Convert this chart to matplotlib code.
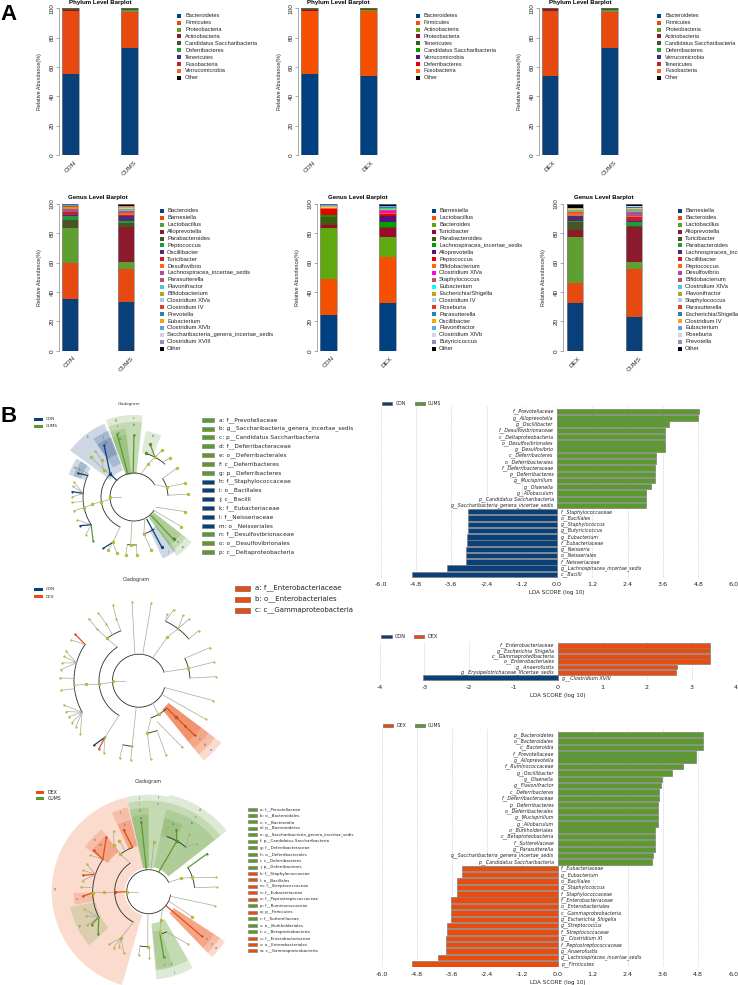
import numpy as np
import matplotlib
matplotlib.use("Agg")
import matplotlib.pyplot as plt
from matplotlib.patches import Rectangle

W, H = 738, 985
BLUE = "#0A4079"
ORANGE = "#E84C0E"
GREEN = "#5C9A2F"
group_colors = {"c": BLUE, "o": ORANGE, "g": GREEN, "n": "#C4C41C"}

# ---- panel A data ----
phylum_cols_soft = ["#0A4079", "#E64A10", "#5F9E30", "#8A1A2C", "#4A5322", "#1F9A3C", "#4C2C74", "#C51F2E", "#F26B1D", "#000000"]
phylum_cols_bright = ["#004080", "#F55000", "#5FA80E", "#9A0A2D", "#3F5B0F", "#00A000", "#5A0F80", "#E60000", "#FF6A00", "#000000"]

phylum1_names = ["Bacteroidetes", "Firmicutes", "Proteobacteria", "Actinobacteria", "Candidatus Saccharibacteria",
                 "Deferribacteres", "Tenericutes", "Fusobacteria", "Verrucomicrobia", "Other"]
phylum1_groups = ["CON", "CUMS"]
phylum1_con = [55.5, 42.5, 0.2, 0.8, 0.4, 0.05, 0.1, 0.05, 0.05, 0.35]
phylum1_cums = [73.0, 24.5, 1.5, 0.1, 0.3, 0.1, 0.1, 0.05, 0.05, 0.4]

phylum2_names = ["Bacteroidetes", "Firmicutes", "Actinobacteria", "Proteobacteria", "Tenericutes",
                 "Candidatus Saccharibacteria", "Verrucomicrobia", "Deferribacteres", "Fusobacteria", "Other"]
phylum2_groups = ["CON", "DEX"]
phylum2_con = [55.5, 42.8, 0.1, 0.2, 0.9, 0.05, 0.05, 0.05, 0.05, 0.3]
phylum2_dex = [54.0, 44.0, 0.8, 0.3, 0.4, 0.05, 0.05, 0.05, 0.05, 0.3]

phylum3_names = ["Bacteroidetes", "Firmicutes", "Proteobacteria", "Actinobacteria", "Candidatus Saccharibacteria",
                 "Deferribacteres", "Verrucomicrobia", "Tenericutes", "Fusobacteria", "Other"]
phylum3_groups = ["DEX", "CUMS"]
phylum3_dex = [54.0, 44.2, 0.3, 1.0, 0.1, 0.05, 0.05, 0.05, 0.05, 0.2]
phylum3_cums = [73.0, 24.5, 1.5, 0.1, 0.3, 0.1, 0.05, 0.05, 0.05, 0.35]

genus_cols_soft = ["#0A4079", "#E64A10", "#5F9E30", "#8A1A2C", "#4A5322", "#1F9A3C", "#4C2C74", "#C51F2E", "#F26B1D",
                   "#A84FA0", "#C34B6E", "#55C2D6", "#B8A51E", "#A8CDE8", "#E83A25", "#2A7FB8", "#F5A01E", "#57A5DB",
                   "#CBD5E3", "#8E92BE", "#000000"]
genus_cols_bright = ["#004080", "#F55000", "#5FA80E", "#9A0A2D", "#3F5B0F", "#00A000", "#5A0F80", "#E60000", "#FF6A00",
                     "#FF00E0", "#C94E6E", "#00FFFF", "#BFA60F", "#AAD4F0", "#F53020", "#1F85C0", "#FFA500", "#55AEEE",
                     "#CCD9E6", "#8C90C0", "#000000"]

genus1_names = ["Bacteroides", "Barnesiella", "Lactobacillus", "Alloprevotella", "Parabacteroides", "Peptococcus",
                "Oscillibacter", "Turicibacter", "Desulfovibrio", "Lachnospiracea_incertae_sedis", "Parasutterella",
                "Flavonifractor", "Bifidobacterium", "Clostridium XlVa", "Clostridium IV", "Prevotella", "Eubacterium",
                "Clostridium XlVb", "Saccharibacteria_genera_incertae_sedis", "Clostridium XVIII", "Other"]
genus1_groups = ["CON", "CUMS"]
genus1_con = [35, 24.5, 24, 0.1, 5.3, 3, 0.4, 2, 0.5, 1.2, 0.7, 0.2, 1, 0.3, 0.2, 0.3, 0.2, 0.3, 0.2, 0.2, 0.4]
genus1_cums = [33.3, 22.7, 4.5, 23.5, 3, 1.2, 3.3, 0.7, 2, 0.6, 0.6, 0.7, 0.3, 0.6, 0.1, 0.3, 0.3, 0.2, 0.3, 0.3, 1.5]

genus2_names = ["Barnesiella", "Lactobacillus", "Bacteroides", "Turicibacter", "Parabacteroides",
                "Lachnospiracea_incertae_sedis", "Alloprevotella", "Peptococcus", "Bifidobacterium", "Clostridium XlVa",
                "Staphylococcus", "Eubacterium", "Escherichia/Shigella", "Clostridium IV", "Roseburia", "Parasutterella",
                "Oscillibacter", "Flavonifractor", "Clostridium XlVb", "Butyricicoccus", "Other"]
genus2_groups = ["CON", "DEX"]
genus2_con = [24.3, 24.7, 34.7, 2.3, 5, 1.5, 0.1, 4, 0.5, 0.1, 0.1, 0.1, 0.1, 0.3, 0.1, 0.3, 0.5, 0.3, 0.2, 0.2, 0.6]
genus2_dex = [32.3, 31.5, 13.7, 6.1, 0.7, 3.2, 4.5, 1.4, 0.6, 1.4, 0.7, 0.7, 0.3, 0.3, 0.1, 0.2, 0.5, 0.2, 0.1, 0.2, 1.2]

genus3_names = ["Barnesiella", "Bacteroides", "Lactobacillus", "Alloprevotella", "Turicibacter", "Parabacteroides",
                "Lachnospiracea_incertae_sedis", "Oscillibacter", "Peptococcus", "Desulfovibrio", "Bifidobacterium",
                "Clostridium XlVa", "Flavonifractor", "Staphylococcus", "Parasutterella", "Escherichia/Shigella",
                "Clostridium IV", "Eubacterium", "Roseburia", "Prevotella", "Other"]
genus3_groups = ["DEX", "CUMS"]
genus3_dex = [32.5, 13.5, 31.5, 4.5, 6, 0.3, 3.3, 0.4, 2.1, 0.1, 0.3, 0.8, 0.3, 0.8, 0.1, 0.3, 0.3, 0.2, 0.1, 0.1, 2.3]
genus3_cums = [23, 33, 4.5, 23.5, 0.8, 2.7, 0.6, 3.2, 0.8, 2.2, 0.4, 0.7, 1.4, 0.4, 0.1, 0.4, 0.2, 0.3, 0.2, 0.2, 1.5]

# ---- LDA data ----
lda1_names = ["f__Prevotellaceae", "g__Alloprevotella", "g__Oscillibacter", "f__Desulfovibrionaceae",
              "c__Deltaproteobacteria", "o__Desulfovibrionales", "g__Desulfovibrio", "c__Deferribacteres",
              "o__Deferribacterales", "f__Deferribacteraceae", "p__Deferribacteres", "g__Mucispirillum", "g__Olsenella",
              "g__Allobaculum", "p__Candidatus Saccharibacteria", "g__Saccharibacteria_genera_incertae_sedis",
              "f__Staphylococcaceae", "o__Bacillales", "g__Staphylococcus", "g__Butyricicoccus", "g__Eubacterium",
              "f__Eubacteriaceae", "g__Neisseria", "o__Neisseriales", "f__Neisseriaceae",
              "g__Lachnospiracea_incertae_sedis", "c__Bacilli"]
lda1_vals = [4.84, 4.80, 3.80, 3.68, 3.68, 3.68, 3.68, 3.37, 3.37, 3.34, 3.33, 3.32, 3.20, 3.02, 3.01, 3.01,
             -3.03, -3.03, -3.03, -3.04, -3.07, -3.07, -3.10, -3.11, -3.11, -3.75, -4.95]

lda2_names = ["f__Enterobacteriaceae", "g__Escherichia_Shigella", "c__Gammaproteobacteria", "o__Enterobacteriales",
              "g__Anaerofustis", "g__Erysipelotrichaceae_incertae_sedis", "g__Clostridium XVIII"]
lda2_vals = [3.42, 3.42, 3.42, 3.42, 2.67, 2.65, -3.03]

lda3_names = ["p__Bacteroidetes", "o__Bacteroidales", "c__Bacteroidia", "f__Prevotellaceae", "g__Alloprevotella",
              "f__Ruminococcaceae", "g__Oscillibacter", "g__Olsenella", "g__Flavonifractor", "c__Deferribacteres",
              "f__Deferribacteraceae", "p__Deferribacteres", "o__Deferribacterales", "g__Mucispirillum", "g__Allobaculum",
              "o__Burkholderiales", "c__Betaproteobacteria", "f__Sutterellaceae", "g__Parasutterella",
              "g__Saccharibacteria_genera_incertae_sedis", "p__Candidatus Saccharibacteria", "f__Eubacteriaceae",
              "g__Eubacterium", "o__Bacillales", "g__Staphylococcus", "f__Staphylococcaceae", "f__Enterobacteriaceae",
              "o__Enterobacteriales", "c__Gammaproteobacteria", "g__Escherichia_Shigella", "g__Streptococcus",
              "f__Streptococcaceae", "g__Clostridium XI", "f__Peptostreptococcaceae", "g__Anaerofustis",
              "g__Lachnospiracea_incertae_sedis", "p__Firmicutes"]
lda3_vals = [4.98, 4.98, 4.98, 4.72, 4.72, 4.30, 3.90, 3.58, 3.52, 3.46, 3.45, 3.44, 3.44, 3.44, 3.42, 3.34, 3.34,
             3.32, 3.32, 3.25, 3.24, -3.26, -3.26, -3.42, -3.42, -3.42, -3.65, -3.65, -3.65, -3.65, -3.76, -3.76,
             -3.79, -3.79, -3.80, -4.07, -4.98]

# ---- cladogram data: angles in degrees, radii in picture units ----
clade1_labels = ["a: f__Prevotellaceae", "b: g__Saccharibacteria_genera_incertae_sedis", "c: p__Candidatus Saccharibacteria",
                 "d: f__Deferribacteraceae", "e: o__Deferribacterales", "f: c__Deferribacteres", "g: p__Deferribacteres",
                 "h: f__Staphylococcaceae", "i: o__Bacillales", "j: c__Bacilli", "k: f__Eubacteriaceae",
                 "l: f__Neisseriaceae", "m: o__Neisseriales", "n: f__Desulfovibrionaceae", "o: o__Desulfovibrionales",
                 "p: c__Deltaproteobacteria"]
clade1_groups = "gggggggcccccc" + "ggg"
# sector: start, end, inner, outer, group, letter
clade1_sectors = [(112, 144, 29, 79, "c", "k"), (111, 125, 36, 71, "c", "j"), (111, 125, 46, 64, "c", "h"),
                  (97, 110, 23, 82, "g", "g"), (97, 110, 23, 75, "g", "f"), (97, 110, 23, 69, "g", "e"),
                  (97, 110, 23, 63, "g", "a"), (84, 97, 23, 82, "g", "c"), (84, 97, 23, 75, "g", "b"),
                  (66, 80, 45, 67, "g", "d"), (146, 161, 52, 69, "c", "m"), (146, 161, 56, 64, "c", "l"),
                  (-65, -52, 36, 68, "c", "i"), (-54, -38, 25, 73, "g", "p"), (-54, -38, 25, 66, "g", "o"),
                  (-54, -38, 25, 60, "g", "n")]
clade1_arcs = [(31, 326, 24), (133, 245, 33), (155, 213, 51), (3, 33, 34), (47, 75, 45), (-75, -58, 38), (262, 273, 48)]
# spoke: angle0, radius0, angle1, radius1, group of the end node
clade1_spokes = [(180, 13, 180, 24, "n"), (186, 24, 188, 33, "n"), (188, 33, 190, 43, "n"), (190, 43, 192, 51, "n"),
                 (155, 51, 157, 61, "c"), (153, 51, 153, 62, "n"), (176, 51, 166, 62, "n"), (176, 51, 170, 62, "n"),
                 (176, 51, 175, 62, "c"), (176, 51, 180, 62, "n"), (185, 51, 185, 62, "n"), (192, 51, 193, 62, "n"),
                 (213, 51, 202, 61, "n"), (213, 51, 208, 61, "c"), (213, 51, 218, 61, "n"), (213, 51, 227, 60, "g"),
                 (245, 33, 245, 50, "n"), (245, 50, 239, 60, "c"), (245, 50, 244, 59, "n"), (245, 50, 253, 59, "n"),
                 (265, 24, 266, 48, "n"), (262, 48, 262, 59, "n"), (273, 48, 273, 58, "n"), (-63, 24, -75, 38, "n"),
                 (-75, 38, -72, 56, "n"), (-60, 26, -61, 57, "c"), (-47, 24, -47, 58, "g"), (-34, 24, -32, 56, "n"),
                 (-25, 24, -16, 53, "n"), (31, 24, 17, 34, "n"), (33, 34, 34, 52, "n"), (17, 34, 15, 53, "n"),
                 (3, 34, 3, 54, "n"), (73, 24, 67, 36, "n"), (67, 36, 62, 45, "n"), (62, 45, 73, 55, "g"),
                 (75, 45, 75, 46, "g"), (62, 45, 59, 55, "n"), (51, 45, 47, 53, "n"), (105, 24, 105, 65, "g"),
                 (92, 24, 90, 62, "g"), (136, 24, 136, 33, "c"), (136, 33, 138, 41, "n"), (138, 41, 137, 59, "n"),
                 (138, 41, 131, 49, "n"), (131, 49, 130, 60, "n"), (136, 33, 120, 60, "c")]

clade2_labels = ["a: f__Enterobacteriaceae", "b: o__Enterobacteriales", "c: c__Gammaproteobacteria"]
clade2_groups = "ooo"
clade2_sectors = [(-51, -37, 37, 103, "o", "a"), (-51, -37, 37, 95, "o", "b"), (-51, -37, 37, 87, "o", "c"),
                  (-51, -37, 37, 78, "o", "")]
clade2_arcs = [(19, 345, 26.5), (123, 240, 40), (146, 209, 65), (110, 127, 53), (40, 66, 65), (3, 26, 51),
               (-72, -46, 39), (-81, -70, 53), (256, 264, 66)]
clade2_spokes = [(180, 14, 180, 26.5, "n"), (183, 26.5, 185, 40, "n"), (185, 40, 184, 53, "n"), (184, 53, 184, 65, "n"),
                 (146, 65, 144, 79, "o"), (146, 65, 149, 79, "n"), (164, 65, 158, 79, "n"), (164, 65, 162, 79, "n"),
                 (164, 65, 167, 79, "n"), (164, 65, 172, 79, "n"), (178, 65, 178, 79, "n"), (187, 65, 187, 79, "n"),
                 (209, 65, 198, 79, "n"), (209, 65, 203, 79, "n"), (209, 65, 207, 79, "n"), (209, 65, 212, 79, "n"),
                 (209, 65, 216, 78, "n"), (209, 65, 222, 79, "n"), (123, 40, 127, 53, "n"), (127, 53, 129, 66, "n"),
                 (120, 53, 120, 66, "n"), (120, 66, 121, 79, "n"), (129, 66, 129, 80, "n"),
                 (110, 53, 110, 66, "n"), (110, 66, 109, 80, "n"), (99, 26.5, 95, 79, "n"), (82, 26.5, 81, 79, "n"),
                 (59, 26.5, 57, 52, "n"), (57, 52, 53, 65, "n"), (66, 65, 67, 72, "n"), (66, 65, 64, 79, "n"),
                 (53, 65, 56, 79, "n"), (53, 65, 51, 79, "n"), (40, 65, 40, 78, "n"), (19, 26.5, 14, 51, "n"),
                 (26, 51, 25, 78, "n"), (14, 51, 14, 77, "n"), (3, 51, 3, 77, "n"), (-15, 26.5, -15, 77, "n"),
                 (-31, 26.5, -30, 77, "n"), (-59, 26.5, -60, 39, "n"), (-44.5, 39, -44.5, 52, "o"),
                 (-44.5, 52, -44.5, 65, "o"), (-44.5, 65, -44.5, 78, "o"), (-72, 39, -81, 53, "n"),
                 (-81, 53, -81.5, 79, "n"), (-70, 53, -70, 79, "n"), (-66, 45, -57, 79, "n"), (264, 26.5, 264, 66, "n"),
                 (256, 66, 256, 80, "n"), (264, 66, 264, 80, "n"), (240, 40, 239, 66, "n"), (239, 66, 235, 79, "c"),
                 (239, 66, 239.5, 79, "o"), (239, 66, 244, 80, "n")]

clade3_labels = ["a: f__Prevotellaceae", "b: o__Bacteroidales", "c: c__Bacteroidia", "d: p__Bacteroidetes",
                 "e: g__Saccharibacteria_genera_incertae_sedis", "f: p__Candidatus Saccharibacteria",
                 "g: f__Deferribacteraceae", "h: o__Deferribacterales", "i: c__Deferribacteres", "j: p__Deferribacteres",
                 "k: f__Staphylococcaceae", "l: o__Bacillales", "m: f__Streptococcaceae", "n: f__Eubacteriaceae",
                 "o: f__Peptostreptococcaceae", "p: f__Ruminococcaceae", "q: p__Firmicutes", "r: f__Sutterellaceae",
                 "s: o__Burkholderiales", "t: c__Betaproteobacteria", "u: f__Enterobacteriaceae",
                 "v: o__Enterobacteriales", "w: c__Gammaproteobacteria"]
clade3_groups = "gggggggggg" + "ooooo" + "g" + "o" + "ggg" + "ooo"
clade3_sectors = [(103, 254, 24, 97, "o", "q"), (90, 103, 24, 97, "g", "j"), (90, 103, 24, 91, "g", "i"),
                  (90, 103, 24, 84, "g", "h"), (90, 103, 24, 77, "g", "g"), (78, 90, 24, 97, "g", "f"),
                  (78, 90, 24, 91, "g", "e"), (38, 78, 25, 99, "g", "d"), (38, 78, 25, 91, "g", "c"),
                  (38, 78, 25, 84, "g", "b"), (63, 78, 57, 75, "g", "a"), (104, 115, 47, 87, "o", "l"),
                  (104, 115, 47, 74, "o", "k"), (127, 145, 50, 78, "o", "n"), (127, 145, 50, 70, "o", "m"),
                  (181, 190, 55, 75, "o", "o"), (191, 222, 54, 80, "g", "p"), (-85, -60, 32, 88, "g", "t"),
                  (-85, -60, 32, 79, "g", "s"), (-84, -72, 40, 78, "g", "r"), (-46, -33, 30, 91, "o", "w"),
                  (-46, -33, 30, 85, "o", "v"), (-46, -33, 30, 78, "o", "u")]
clade3_arcs = [(25, 351, 22), (123, 243, 34), (145, 207, 56), (110, 127, 47), (261, 270, 55), (-75, -66, 44),
               (5, 31, 46), (50, 72, 58)]
clade3_spokes = [(180, 11, 180, 22, "n"), (180, 22, 181, 34, "o"), (181, 34, 181, 45, "n"), (181, 45, 181, 56, "n"),
                 (181, 56, 184, 66, "o"), (123, 34, 127, 47, "n"), (110, 47, 112, 67, "o"), (127, 47, 127, 58, "n"),
                 (127, 58, 120, 70, "n"), (120, 47, 120, 59, "n"), (145, 56, 128, 69, "o"), (145, 56, 148, 69, "n"),
                 (145, 56, 143, 69, "o"), (162, 56, 156, 68, "n"), (162, 56, 162, 69, "n"), (162, 56, 166, 68, "o"),
                 (162, 56, 170.5, 67, "n"), (176, 56, 176, 68, "n"), (207, 56, 195, 67, "n"), (207, 56, 201, 67, "n"),
                 (207, 56, 208.5, 70, "n"), (207, 56, 210, 66, "g"), (207, 56, 220, 66, "g"), (243, 34, 239, 54, "n"),
                 (239, 54, 233, 66, "n"), (239, 54, 238, 66, "n"), (239, 54, 242, 63, "n"), (239, 54, 248, 66, "n"),
                 (268, 22, 269, 55, "n"), (261, 55, 261, 64, "n"), (270, 55, 270, 66, "n"), (-52, 22, -67, 31, "n"),
                 (-67, 31, -75, 43, "n"), (-75, 43, -77, 67, "g"), (-66, 44, -53, 66, "n"), (-39, 22, -40, 69, "o"),
                 (-12, 22, -12, 68, "n"), (-25, 22, -30, 50, "n"), (25, 22, 22.5, 35, "n"), (31.5, 46, 33, 70, "g"),
                 (22.5, 35, 18, 46, "n"), (18, 46, 12, 69, "n"), (5, 46, 4, 68, "n"), (96, 22, 96, 70, "g"),
                 (84, 22, 84, 50, "n"), (63, 22, 61, 58, "g"), (72, 58, 74, 66, "n"), (61, 58, 66, 68, "g"),
                 (50, 58, 55, 70, "n"), (50, 58, 45, 68, "n")]

plt.rcParams["font.family"] = ["Liberation Sans", "DejaVu Sans"]
fig = plt.figure(figsize=(W / 100, H / 100), dpi=100)

# full page axes in picture pixels, for legends and loose text
page = fig.add_axes([0, 0, 1, 1])
page.set_xlim(0, W)
page.set_ylim(H, 0)
page.axis("off")


def box(left, top, right, bottom, **kw):
    return fig.add_axes([left / W, 1 - bottom / H, (right - left) / W, (bottom - top) / H], **kw)


def legend(names, cols, x0, x1, xt, y0, dy, h, fs, **kw):
    for i, (n, c) in enumerate(zip(names, cols)):
        page.add_patch(Rectangle((x0, y0 + i * dy - h / 2), x1 - x0, h, fc=c, ec=kw.get("ec", "none"), lw=0.4))
        page.text(xt, y0 + i * dy, n, fontsize=fs, va="center", ha="left", color="#222222",
                  family=kw.get("family", "Liberation Sans"))


def stack_panel(centers, axis_x, top, bottom, groups, series, cols, title, title_x, title_y, ylab_x):
    spacing = centers[1] - centers[0]
    left = axis_x
    right = centers[1] + 10
    ax = box(left, top, right, bottom)
    ax.set_xlim((left - centers[0]) / spacing, (right - centers[0]) / spacing)
    ax.set_ylim(0, 100)
    ax.patch.set_alpha(0)
    for i, vals in enumerate(series):
        base = 0
        for v, c in zip(vals, cols):
            ax.bar(i, v, 0.28, bottom=base, color=c, lw=0)
            base += v
        ax.bar(i, base, 0.28, fill=False, ec="#8a8a8a", lw=0.5)
    for s in ["top", "right", "bottom"]:
        ax.spines[s].set_visible(False)
    ax.spines["left"].set_linewidth(0.5)
    ax.spines["left"].set_color("#888888")
    ax.spines["left"].set_bounds(0, 100)
    ax.set_xticks([0, 1])
    ax.set_xticklabels(groups, rotation=45, fontsize=4.6, ha="center", color="#222222")
    ax.set_yticks([0, 20, 40, 60, 80, 100])
    ax.set_yticklabels([0, 20, 40, 60, 80, 100], rotation=90, va="center", fontsize=4.6, color="#222222")
    ax.tick_params(axis="y", length=2, width=0.5, pad=1, color="#888888")
    ax.tick_params(axis="x", length=0, pad=3.5)
    page.text(title_x, title_y, title, fontsize=4.4, fontweight="bold", ha="center", va="center")
    page.text(ylab_x, (top + bottom) / 2, "Relative Abundance(%)", fontsize=3.9, rotation=90, ha="center", va="center",
              color="#222222")


def lda_panel(left, right, top, bottom, names, vals, pos_c, neg_c, xticks, lim, fs, tfs):
    ax = box(left, top, right, bottom)
    ax.patch.set_alpha(0)
    y = np.arange(len(vals))
    cols = [pos_c if v > 0 else neg_c for v in vals]
    ax.barh(y, vals, 0.86, color=cols, ec="#7d7d7d", lw=0.5, zorder=3)
    for yi, n, v in zip(y, names, vals):
        off = -0.12 * lim / 6 if v > 0 else 0.12 * lim / 6
        ax.text(off, yi, n, fontsize=fs, style="italic", ha="right" if v > 0 else "left", va="center",
                color="#222222", family="DejaVu Sans", zorder=4)
    ax.set_xlim(-lim, lim)
    ax.set_ylim(len(vals) - 0.5, -0.9)
    ax.set_yticks([])
    ax.set_xticks(xticks)
    ax.set_xticklabels(["%g" % t if lim == 4 else "%.1f" % t for t in xticks], fontsize=tfs, family="DejaVu Sans",
                       color="#222222")
    ax.tick_params(axis="x", length=0, pad=3.5)
    ax.grid(axis="x", ls=":", lw=0.5, color="#b5b5b5", zorder=0)
    for s in ax.spines.values():
        s.set_visible(False)
    ax.set_xlabel("LDA SCORE (log 10)", fontsize=4.1, family="DejaVu Sans", color="#222222", labelpad=2)


def cladogram(cx, cy, sectors, arcs, spokes, big, small, alpha=0.2):
    R = 108
    ax = box(cx - R, cy - R, cx + R, cy + R, projection="polar")
    ax.set_ylim(0, R)
    ax.axis("off")
    ax.patch.set_alpha(0)
    for t0, t1, r0, r1, g, letter in sectors:
        ax.bar(np.radians((t0 + t1) / 2), r1 - r0, np.radians(t1 - t0), bottom=r0, color=group_colors[g], alpha=alpha,
               lw=0, zorder=1)
        if letter:
            ax.text(np.radians((t0 + t1) / 2), r1 - 3, letter, fontsize=2.2, color="#555555", ha="center", va="center",
                    family="DejaVu Sans", zorder=5)
    for t0, t1, r in arcs:
        th = np.radians(np.linspace(t0, t1, 120))
        ax.plot(th, np.full_like(th, r), color="#2b2b2b", lw=0.6, zorder=2)
    for t0, r0, t1, r1, g in spokes:
        hit = g != "n"
        ax.plot(np.radians([t0, t1]), [r0, r1], color=group_colors[g] if hit else "#a8a89a", lw=0.9 if hit else 0.5,
                zorder=3)
        ms = big if r1 < 60 else small
        ax.plot(np.radians([t1]), [r1], "o", ms=ms, mfc=group_colors[g], mec="#8a8a30" if not hit else "#333333",
                mew=0.15, zorder=4)


# panel A
stack_panel([70.3, 129.5], 59, 8.4, 155, phylum1_groups, [phylum1_con, phylum1_cums], phylum_cols_soft,
            "Phylum Level Barplot", 100, 2.7, 40)
legend(phylum1_names, phylum_cols_soft, 176.5, 180.5, 185, 15.7, 6.9, 4, 4.1)
stack_panel([309.2, 368.5], 298, 8.4, 155, phylum2_groups, [phylum2_con, phylum2_dex], phylum_cols_bright,
            "Phylum Level Barplot", 338, 2.7, 279)
legend(phylum2_names, phylum_cols_bright, 416, 420, 424, 15.7, 6.9, 4, 4.1)
stack_panel([550, 609.4], 539, 8.4, 155, phylum3_groups, [phylum3_dex, phylum3_cums], phylum_cols_soft,
            "Phylum Level Barplot", 580, 2.7, 519)
legend(phylum3_names, phylum_cols_soft, 657, 661, 665, 15.7, 6.9, 4, 4.0)

stack_panel([70, 126], 59, 204, 350.7, genus1_groups, [genus1_con, genus1_cums], genus_cols_soft,
            "Genus Level Barplot", 98, 198, 40)
legend(genus1_names, genus_cols_soft, 159.5, 163.5, 167, 211, 6.88, 4, 4.25)
stack_panel([328.5, 387.5], 317, 204, 350.7, genus2_groups, [genus2_con, genus2_dex], genus_cols_bright,
            "Genus Level Barplot", 358, 198, 298)
legend(genus2_names, genus_cols_bright, 431.5, 435.5, 439, 211, 6.88, 4, 4.25)
stack_panel([575, 634], 563, 204, 350.7, genus3_groups, [genus3_dex, genus3_cums], genus_cols_soft,
            "Genus Level Barplot", 604, 198, 544)
legend(genus3_names, genus_cols_soft, 677.5, 681.5, 685, 211, 6.88, 4, 4.25)

page.text(0, 14, "A", fontsize=16, fontweight="bold", va="center", ha="left")
page.text(0, 417, "B", fontsize=16, fontweight="bold", va="center", ha="left")

# panel B cladograms
cladogram(134, 497, clade1_sectors, clade1_arcs, clade1_spokes, 2.2, 1.3)
page.text(129, 404, "Cladogram", fontsize=3, ha="center", va="center", family="DejaVu Sans", color="#333333")
legend(["CON", "CUMS"], [BLUE, GREEN], 33.5, 43, 46, 419.5, 6.9, 3, 3, family="DejaVu Sans")
legend(clade1_labels, [group_colors[g] for g in clade1_groups], 202, 214, 219, 419.7, 8.83, 4, 4.15,
       family="DejaVu Sans", ec="#777777")

cladogram(139, 680.7, clade2_sectors, clade2_arcs, clade2_spokes, 2.2, 1.3)
page.text(136, 580, "Cladogram", fontsize=3.6, ha="center", va="center", family="DejaVu Sans", color="#333333")
legend(["CON", "DEX"], [BLUE, ORANGE], 33.5, 43, 46, 589, 7.5, 3, 3, family="DejaVu Sans")
legend(clade2_labels, [group_colors[g] for g in clade2_groups], 235, 250, 255, 588, 11, 5, 5,
       family="DejaVu Sans", ec="#555555")

cladogram(148.7, 891.7, clade3_sectors, clade3_arcs, clade3_spokes, 2.2, 1.3)
page.text(148, 781, "Cladogram", fontsize=3.6, ha="center", va="center", family="DejaVu Sans", color="#333333")
legend(["DEX", "CUMS"], [ORANGE, GREEN], 35.5, 44, 48, 792, 6.8, 3, 3.4, family="DejaVu Sans")
legend(clade3_labels, [group_colors[g] for g in clade3_groups], 248, 257, 260, 809, 6.45, 3, 2.9,
       family="DejaVu Sans", ec="#777777")

# panel B LDA bars
ticks12 = [-6.0, -4.8, -3.6, -2.4, -1.2, 0.0, 1.2, 2.4, 3.6, 4.8, 6.0]
lda_panel(380.7, 733.5, 406, 577.5, lda1_names, lda1_vals, GREEN, BLUE, ticks12, 6, 3.4, 4.6)
legend(["CON"], [BLUE], 382, 392, 396, 403.3, 0, 3, 3.3, family="DejaVu Sans", ec="#555555")
legend(["CUMS"], [GREEN], 415, 425, 428, 403.3, 0, 3, 3.3, family="DejaVu Sans", ec="#555555")

lda_panel(380, 736, 640.5, 680.5, lda2_names, lda2_vals, ORANGE, BLUE, [-4, -3, -2, -1, 0, 1, 2, 3, 4], 4, 3.5, 4.6)
legend(["CON"], [BLUE], 381, 392, 395, 636.7, 0, 3, 3.6, family="DejaVu Sans", ec="#555555")
legend(["DEX"], [ORANGE], 414, 424, 427, 636.7, 0, 3, 3.6, family="DejaVu Sans", ec="#555555")

lda_panel(381.7, 733.3, 729, 967, lda3_names, lda3_vals, GREEN, ORANGE, ticks12, 6, 3.4, 4.6)
legend(["DEX"], [ORANGE], 383, 393, 396.5, 725.7, 0, 3, 3.3, family="DejaVu Sans", ec="#555555")
legend(["CUMS"], [GREEN], 415, 425, 428, 725.7, 0, 3, 3.3, family="DejaVu Sans", ec="#555555")

fig.savefig("out.png", dpi=100)
